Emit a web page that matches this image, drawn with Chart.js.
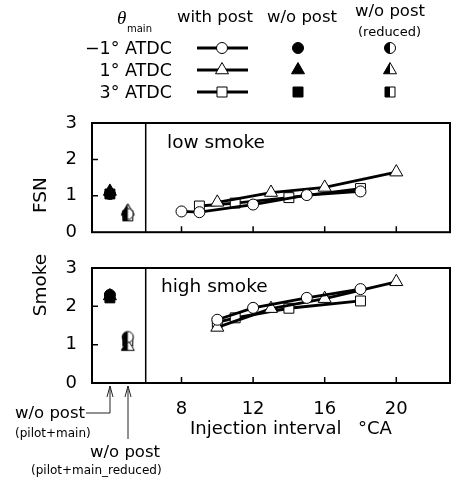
<!DOCTYPE html>
<html>
<head>
<meta charset="utf-8">
<script src="https://cdn.jsdelivr.net/npm/chart.js@4/dist/chart.umd.min.js"></script>
<style>
  body { margin: 0; background: #fff; }
  #page { position: relative; width: 455px; height: 481px; overflow: hidden; font-family: "DejaVu Sans", sans-serif; color: #000; }
  .t { position: absolute; white-space: nowrap; line-height: 1; }
  canvas { position: absolute; left: 0; }
  svg { position: absolute; left: 0; top: 0; }
</style>
</head>
<body>
<div id="page">
  <canvas id="fsnChart" width="455" height="150" style="top:100px"></canvas>
  <canvas id="smokeChart" width="455" height="231" style="top:250px"></canvas>
  <svg id="legendMarks" width="455" height="481"></svg>

  <!-- legend -->
  <div class="t" style="left:117px;top:7px;font:italic 19px 'Liberation Serif'">θ</div>
  <div class="t" style="left:127px;top:24px;font-size:10px">main</div>
  <div class="t" style="left:177px;top:9px;font-size:16.5px">with post</div>
  <div class="t" style="left:267px;top:9px;font-size:16.5px">w/o post</div>
  <div class="t" style="left:355px;top:3px;font-size:16.5px">w/o post</div>
  <div class="t" style="left:358px;top:25px;font-size:13px">(reduced)</div>
  <div class="t" style="right:283px;top:40px;font-size:17.5px">−1° ATDC</div>
  <div class="t" style="right:283px;top:62px;font-size:17.5px">1° ATDC</div>
  <div class="t" style="right:283px;top:84px;font-size:17.5px">3° ATDC</div>

  <!-- panel texts -->
  <div class="t" style="left:167px;top:133px;font-size:18.5px">low smoke</div>
  <div class="t" style="left:161px;top:277px;font-size:18.5px">high smoke</div>
  <div class="t" style="left:40px;top:195px;font-size:18.5px;transform:translate(-50%,-50%) rotate(-90deg)">FSN</div>
  <div class="t" style="left:40px;top:285px;font-size:18.5px;transform:translate(-50%,-50%) rotate(-90deg)">Smoke</div>
  <div class="t" style="left:190px;top:419px;font-size:18px">Injection interval</div>
  <div class="t" style="left:358px;top:419px;font-size:18px">°CA</div>

  <!-- annotations under the inset -->
  <div class="t" style="left:15px;top:405px;font-size:16.5px">w/o post</div>
  <div class="t" style="left:15px;top:427px;font-size:12px">(pilot+main)</div>
  <div class="t" style="left:90px;top:444px;font-size:16.5px">w/o post</div>
  <div class="t" style="left:31px;top:464px;font-size:12px">(pilot+main_reduced)</div>
</div>

<script>
// x positions on the shared scale
const xTicks = [8, 12, 16, 20];
const yTicks = [0, 1, 2, 3];
const slotNoPost = 4;   // left inset: w/o post (pilot+main)
const slotReduced = 5;  // left inset: w/o post (pilot+main_reduced)
const insetEdge = 6;

// FSN (low smoke), with post
const fsnCircleX = [8, 9, 12, 15, 18];
const fsnCircleY = [0.57, 0.55, 0.76, 1.02, 1.12];
const fsnTriangleX = [10, 13, 16, 20];
const fsnTriangleY = [0.82, 1.09, 1.23, 1.65];
const fsnSquareX = [9, 11, 14, 18];
const fsnSquareY = [0.72, 0.80, 0.95, 1.20];
// order: -1, 1, 3 deg ATDC
const fsnNoPost = [1.05, 1.12, 1.05];
const fsnReduced = [0.50, 0.58, 0.45];

// Smoke (high smoke), with post
const smokeCircleX = [10, 12, 15, 18];
const smokeCircleY = [1.65, 1.96, 2.22, 2.45];
const smokeTriangleX = [10, 13, 16, 20];
const smokeTriangleY = [1.45, 1.94, 2.20, 2.64];
const smokeSquareX = [10, 11, 14, 18];
const smokeSquareY = [1.58, 1.70, 1.95, 2.14];
const smokeNoPost = [2.30, 2.27, 2.22];
const smokeReduced = [1.20, 0.95, 1.10];

const pts = (xs, ys) => xs.map((x, i) => ({ x: x, y: ys[i] }));

const shapes = ['circle', 'triangle', 'rect'];
const radii = { circle: 5.5, triangle: 7.5, rect: 7 };

// half black / half white marker for the reduced case
function halfMarker(shape) {
    const s = 17, c = s / 2;
    const cv = document.createElement('canvas');
    cv.width = s; cv.height = s;
    const g = cv.getContext('2d');
    const path = () => {
        g.beginPath();
        if (shape === 'circle') g.arc(c, c, 5.5, 0, Math.PI * 2);
        else if (shape === 'triangle') {
            const r = 7.5;
            g.moveTo(c, c - r);
            g.lineTo(c + 0.866 * r, c + 0.5 * r);
            g.lineTo(c - 0.866 * r, c + 0.5 * r);
            g.closePath();
        } else g.rect(c - 5, c - 5, 10, 10);
    };
    path(); g.fillStyle = '#fff'; g.fill();
    g.save(); path(); g.clip(); g.fillStyle = '#000'; g.fillRect(0, 0, c, s); g.restore();
    path(); g.lineWidth = 1; g.strokeStyle = '#000'; g.stroke();
    return cv;
}

function buildSets(lines, noPost, reduced) {
    const sets = [];
    lines.forEach((d, i) => {
        sets.push({
            data: d, showLine: true, borderColor: '#000', borderWidth: 2.8,
            pointStyle: shapes[i], pointRadius: radii[shapes[i]],
            pointBackgroundColor: '#fff', pointBorderColor: '#000', pointBorderWidth: 1
        });
    });
    shapes.forEach((sh, i) => {
        sets.push({
            data: [{ x: slotNoPost, y: noPost[i] }], showLine: false,
            pointStyle: sh, pointRadius: radii[sh],
            pointBackgroundColor: '#000', pointBorderColor: '#000', pointBorderWidth: 1
        });
        sets.push({
            data: [{ x: slotReduced, y: reduced[i] }], showLine: false,
            pointStyle: halfMarker(sh), pointRadius: radii[sh]
        });
    });
    return sets;
}

const framePlugin = {
    id: 'frame',
    afterDraw(chart) {
        const { ctx, chartArea: a, scales: { x, y } } = chart;
        ctx.save();
        ctx.strokeStyle = '#000';
        ctx.lineWidth = 2;
        ctx.strokeRect(a.left, a.top, a.right - a.left, a.bottom - a.top);
        ctx.lineWidth = 1.5;
        ctx.beginPath();
        const xd = x.getPixelForValue(insetEdge);
        ctx.moveTo(xd, a.top); ctx.lineTo(xd, a.bottom);
        [1, 2].forEach(v => {
            const py = y.getPixelForValue(v);
            ctx.moveTo(a.left, py); ctx.lineTo(a.left + 6, py);
        });
        xTicks.forEach(v => {
            const px = x.getPixelForValue(v);
            ctx.moveTo(px, a.bottom); ctx.lineTo(px, a.bottom - 6);
        });
        ctx.stroke();
        ctx.restore();
    }
};

const tickFont = { family: 'DejaVu Sans', size: 18 };

function makePanel(id, sets, padTop, xHeight, showXLabels) {
    return new Chart(document.getElementById(id), {
        type: 'scatter',
        data: { datasets: sets },
        options: {
            animation: false,
            responsive: false,
            layout: { padding: { top: padTop, right: 5, left: 0, bottom: 0 }, autoPadding: false },
            plugins: { legend: { display: false }, tooltip: { enabled: false } },
            scales: {
                x: {
                    type: 'linear', min: 3, max: 23,
                    afterBuildTicks: s => { s.ticks = xTicks.map(v => ({ value: v })); },
                    grid: { display: false }, border: { display: false },
                    ticks: { display: showXLabels, padding: 8, font: tickFont, color: '#000', maxRotation: 0 },
                    afterFit: s => { s.height = xHeight; }
                },
                y: {
                    min: 0, max: 3,
                    afterBuildTicks: s => { s.ticks = yTicks.map(v => ({ value: v })); },
                    grid: { display: false }, border: { display: false },
                    ticks: { padding: 7, font: tickFont, color: '#000' },
                    afterFit: s => { s.width = 92; }
                }
            }
        },
        plugins: [framePlugin]
    });
}

makePanel('fsnChart', buildSets(
    [pts(fsnCircleX, fsnCircleY), pts(fsnTriangleX, fsnTriangleY), pts(fsnSquareX, fsnSquareY)],
    fsnNoPost, fsnReduced), 23, 10, false);

makePanel('smokeChart', buildSets(
    [pts(smokeCircleX, smokeCircleY), pts(smokeTriangleX, smokeTriangleY), pts(smokeSquareX, smokeSquareY)],
    smokeNoPost, smokeReduced), 18, 98, true);

// legend symbols and annotation arrows
const svg = document.getElementById('legendMarks');
const NS = 'http://www.w3.org/2000/svg';
function el(tag, attrs) {
    const e = document.createElementNS(NS, tag);
    for (const k in attrs) e.setAttribute(k, attrs[k]);
    svg.appendChild(e);
    return e;
}
function shapePath(sh, cx, cy) {
    if (sh === 'circle') return `M${cx - 5.5},${cy} a5.5,5.5 0 1,0 11,0 a5.5,5.5 0 1,0 -11,0 Z`;
    if (sh === 'triangle') return `M${cx},${cy - 7.5} L${cx + 6.5},${cy + 3.75} L${cx - 6.5},${cy + 3.75} Z`;
    return `M${cx - 5},${cy - 5} h10 v10 h-10 Z`;
}
const rowY = [48, 70, 92];
shapes.forEach((sh, i) => {
    const cy = rowY[i];
    el('line', { x1: 197, y1: cy, x2: 248, y2: cy, stroke: '#000', 'stroke-width': 3 });
    el('path', { d: shapePath(sh, 222, cy), fill: '#fff', stroke: '#000', 'stroke-width': 1 });
    el('path', { d: shapePath(sh, 298, cy), fill: '#000', stroke: '#000', 'stroke-width': 1 });
    const clipId = 'half' + i;
    const cp = el('clipPath', { id: clipId });
    const r = document.createElementNS(NS, 'rect');
    r.setAttribute('x', 380); r.setAttribute('y', cy - 10); r.setAttribute('width', 10); r.setAttribute('height', 20);
    cp.appendChild(r);
    el('path', { d: shapePath(sh, 390, cy), fill: '#fff', stroke: 'none' });
    el('path', { d: shapePath(sh, 390, cy), fill: '#000', stroke: 'none', 'clip-path': `url(#${clipId})` });
    el('path', { d: shapePath(sh, 390, cy), fill: 'none', stroke: '#000', 'stroke-width': 1 });
});
el('path', { d: 'M86,413 H110 V386 M107,397 L110,386 L113,397', fill: 'none', stroke: '#222', 'stroke-width': 1 });
el('path', { d: 'M128,439 V386 M125,397 L128,386 L131,397', fill: 'none', stroke: '#222', 'stroke-width': 1 });
</script>
</body>
</html>
